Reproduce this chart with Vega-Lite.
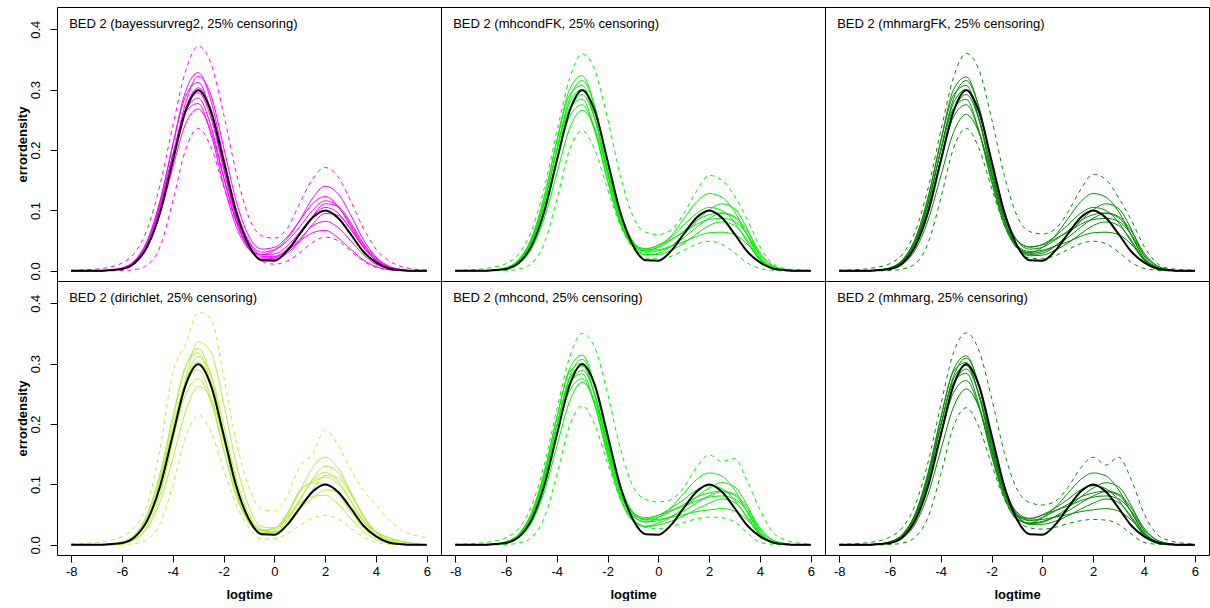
{
"$schema": "https://vega.github.io/schema/vega-lite/v6.json",
"padding": {"left": 16, "top": -4, "right": 1, "bottom": 0},
"background": "white",
"data": {"values": [
{"p":"1","x":-8,"lab":"BED 2 (bayessurvreg2, 25% censoring)","t":0,"u":0.001,"l":0,"a":0,"b":0,"c":0,"d":0,"e":0,"f":0,"g":0,"h":0},
{"p":"1","x":-7,"t":0,"u":0.003,"l":0,"a":0,"b":0,"c":0,"d":0,"e":0,"f":0,"g":0,"h":0},
{"p":"1","x":-6.5,"t":0.001,"u":0.006,"l":0,"a":0.001,"b":0.001,"c":0.001,"d":0.001,"e":0.001,"f":0.001,"g":0.001,"h":0.001},
{"p":"1","x":-6,"t":0.003,"u":0.013,"l":0.0005,"a":0.004,"b":0.003,"c":0.005,"d":0.003,"e":0.004,"f":0.004,"g":0.004,"h":0.003},
{"p":"1","x":-5.5,"t":0.013,"u":0.03,"l":0.002,"a":0.016,"b":0.012,"c":0.017,"d":0.013,"e":0.015,"f":0.016,"g":0.017,"h":0.013},
{"p":"1","x":-5,"t":0.041,"u":0.07,"l":0.01,"a":0.049,"b":0.039,"c":0.051,"d":0.041,"e":0.044,"f":0.047,"g":0.049,"h":0.040},
{"p":"1","x":-4.5,"t":0.097,"u":0.143,"l":0.04,"a":0.114,"b":0.097,"c":0.117,"d":0.098,"e":0.103,"f":0.107,"g":0.110,"h":0.094},
{"p":"1","x":-4,"t":0.182,"u":0.24,"l":0.115,"a":0.209,"b":0.186,"c":0.208,"d":0.184,"e":0.188,"f":0.191,"g":0.193,"h":0.171},
{"p":"1","x":-3.5,"t":0.264,"u":0.33,"l":0.2,"a":0.297,"b":0.277,"c":0.289,"d":0.268,"e":0.267,"f":0.265,"g":0.263,"h":0.243},
{"p":"1","x":-3,"t":0.299,"u":0.372,"l":0.236,"a":0.328,"b":0.322,"c":0.312,"d":0.303,"e":0.295,"f":0.286,"g":0.277,"h":0.268},
{"p":"1","x":-2.5,"t":0.264,"u":0.344,"l":0.205,"a":0.282,"b":0.291,"c":0.262,"d":0.268,"e":0.254,"f":0.240,"g":0.226,"h":0.231},
{"p":"1","x":-2,"t":0.182,"u":0.26,"l":0.14,"a":0.189,"b":0.205,"c":0.170,"d":0.184,"e":0.170,"f":0.156,"g":0.143,"h":0.155},
{"p":"1","x":-1.5,"t":0.097,"u":0.162,"l":0.082,"a":0.100,"b":0.115,"c":0.087,"d":0.101,"e":0.090,"f":0.081,"g":0.073,"h":0.082},
{"p":"1","x":-1,"t":0.042,"u":0.088,"l":0.04,"a":0.047,"b":0.057,"c":0.038,"d":0.049,"e":0.042,"f":0.036,"g":0.036,"h":0.037},
{"p":"1","x":-0.5,"t":0.0175,"u":0.058,"l":0.016,"a":0.027,"b":0.036,"c":0.019,"d":0.031,"e":0.024,"f":0.021,"g":0.027,"h":0.019},
{"p":"1","x":0,"t":0.0168,"u":0.054,"l":0.011,"a":0.028,"b":0.039,"c":0.019,"d":0.035,"e":0.024,"f":0.023,"g":0.034,"h":0.021},
{"p":"1","x":0.5,"t":0.033,"u":0.07,"l":0.016,"a":0.041,"b":0.056,"c":0.029,"d":0.053,"e":0.036,"f":0.034,"g":0.049,"h":0.033},
{"p":"1","x":1,"t":0.061,"u":0.112,"l":0.03,"a":0.064,"b":0.083,"c":0.050,"d":0.084,"e":0.060,"f":0.049,"g":0.073,"h":0.053},
{"p":"1","x":1.5,"t":0.088,"u":0.152,"l":0.047,"a":0.090,"b":0.111,"c":0.077,"d":0.120,"e":0.090,"f":0.063,"g":0.100,"h":0.074},
{"p":"1","x":2,"t":0.100,"u":0.171,"l":0.056,"a":0.105,"b":0.123,"c":0.095,"d":0.140,"e":0.111,"f":0.067,"g":0.116,"h":0.082},
{"p":"1","x":2.5,"t":0.088,"u":0.156,"l":0.05,"a":0.096,"b":0.107,"c":0.092,"d":0.128,"e":0.107,"f":0.055,"g":0.106,"h":0.072},
{"p":"1","x":3,"t":0.061,"u":0.116,"l":0.033,"a":0.069,"b":0.074,"c":0.069,"d":0.093,"e":0.080,"f":0.036,"g":0.077,"h":0.050},
{"p":"1","x":3.5,"t":0.032,"u":0.071,"l":0.016,"a":0.039,"b":0.040,"c":0.040,"d":0.052,"e":0.046,"f":0.018,"g":0.043,"h":0.027},
{"p":"1","x":4,"t":0.014,"u":0.036,"l":0.006,"a":0.017,"b":0.017,"c":0.018,"d":0.023,"e":0.021,"f":0.007,"g":0.019,"h":0.011},
{"p":"1","x":4.5,"t":0.004,"u":0.017,"l":0.002,"a":0.006,"b":0.005,"c":0.006,"d":0.008,"e":0.007,"f":0.002,"g":0.006,"h":0.004},
{"p":"1","x":5,"t":0.001,"u":0.007,"l":0.0005,"a":0.002,"b":0.001,"c":0.002,"d":0.002,"e":0.002,"f":0.001,"g":0.002,"h":0.001},
{"p":"1","x":5.5,"t":0,"u":0.003,"l":0,"a":0,"b":0,"c":0,"d":0,"e":0,"f":0,"g":0,"h":0},
{"p":"1","x":6,"t":0,"u":0.001,"l":0,"a":0,"b":0,"c":0,"d":0,"e":0,"f":0,"g":0,"h":0},

{"p":"2","x":-8,"lab":"BED 2 (mhcondFK, 25% censoring)","t":0,"u":0.001,"l":0,"a":0,"b":0,"c":0,"d":0,"e":0,"f":0,"g":0,"h":0},
{"p":"2","x":-7,"t":0,"u":0.003,"l":0,"a":0,"b":0,"c":0,"d":0,"e":0,"f":0,"g":0,"h":0},
{"p":"2","x":-6.5,"t":0.001,"u":0.006,"l":0,"a":0.001,"b":0.001,"c":0.001,"d":0.001,"e":0.001,"f":0.001,"g":0.001,"h":0.001},
{"p":"2","x":-6,"t":0.003,"u":0.012,"l":0.0005,"a":0.005,"b":0.004,"c":0.005,"d":0.004,"e":0.004,"f":0.005,"g":0.004,"h":0.003},
{"p":"2","x":-5.5,"t":0.013,"u":0.028,"l":0.003,"a":0.018,"b":0.016,"c":0.019,"d":0.016,"e":0.014,"f":0.017,"g":0.015,"h":0.012},
{"p":"2","x":-5,"t":0.041,"u":0.066,"l":0.012,"a":0.053,"b":0.047,"c":0.054,"d":0.049,"e":0.044,"f":0.050,"g":0.045,"h":0.036},
{"p":"2","x":-4.5,"t":0.097,"u":0.136,"l":0.045,"a":0.121,"b":0.110,"c":0.122,"d":0.112,"e":0.102,"f":0.113,"g":0.103,"h":0.086},
{"p":"2","x":-4,"t":0.182,"u":0.230,"l":0.118,"a":0.216,"b":0.201,"c":0.214,"d":0.200,"e":0.186,"f":0.198,"g":0.184,"h":0.161},
{"p":"2","x":-3.5,"t":0.264,"u":0.318,"l":0.200,"a":0.300,"b":0.285,"c":0.291,"d":0.278,"e":0.264,"f":0.269,"g":0.255,"h":0.235},
{"p":"2","x":-3,"t":0.299,"u":0.359,"l":0.232,"a":0.323,"b":0.315,"c":0.307,"d":0.300,"e":0.292,"f":0.284,"g":0.275,"h":0.266},
{"p":"2","x":-2.5,"t":0.264,"u":0.332,"l":0.200,"a":0.271,"b":0.271,"c":0.251,"d":0.252,"e":0.251,"f":0.232,"g":0.231,"h":0.235},
{"p":"2","x":-2,"t":0.182,"u":0.252,"l":0.135,"a":0.178,"b":0.182,"c":0.160,"d":0.165,"e":0.169,"f":0.148,"g":0.151,"h":0.162},
{"p":"2","x":-1.5,"t":0.097,"u":0.158,"l":0.075,"a":0.094,"b":0.099,"c":0.083,"d":0.086,"e":0.093,"f":0.078,"g":0.080,"h":0.090},
{"p":"2","x":-1,"t":0.042,"u":0.090,"l":0.037,"a":0.046,"b":0.049,"c":0.044,"d":0.040,"e":0.048,"f":0.043,"g":0.042,"h":0.044},
{"p":"2","x":-0.5,"t":0.0175,"u":0.064,"l":0.021,"a":0.031,"b":0.034,"c":0.037,"d":0.026,"e":0.034,"f":0.036,"g":0.033,"h":0.027},
{"p":"2","x":0,"t":0.0168,"u":0.060,"l":0.020,"a":0.033,"b":0.040,"c":0.042,"d":0.029,"e":0.035,"f":0.043,"g":0.039,"h":0.027},
{"p":"2","x":0.5,"t":0.033,"u":0.068,"l":0.024,"a":0.041,"b":0.058,"c":0.052,"d":0.041,"e":0.041,"f":0.056,"g":0.051,"h":0.034},
{"p":"2","x":1,"t":0.061,"u":0.095,"l":0.034,"a":0.055,"b":0.086,"c":0.064,"d":0.060,"e":0.048,"f":0.076,"g":0.066,"h":0.046},
{"p":"2","x":1.5,"t":0.088,"u":0.132,"l":0.044,"a":0.072,"b":0.114,"c":0.077,"d":0.082,"e":0.057,"f":0.095,"g":0.083,"h":0.061},
{"p":"2","x":2,"t":0.100,"u":0.158,"l":0.049,"a":0.087,"b":0.128,"c":0.085,"d":0.101,"e":0.063,"f":0.105,"g":0.093,"h":0.075},
{"p":"2","x":2.5,"t":0.088,"u":0.150,"l":0.044,"a":0.095,"b":0.122,"c":0.087,"d":0.111,"e":0.064,"f":0.100,"g":0.096,"h":0.081},
{"p":"2","x":3,"t":0.061,"u":0.124,"l":0.030,"a":0.088,"b":0.098,"c":0.082,"d":0.103,"e":0.060,"f":0.080,"g":0.090,"h":0.075},
{"p":"2","x":3.5,"t":0.032,"u":0.085,"l":0.013,"a":0.060,"b":0.059,"c":0.060,"d":0.069,"e":0.044,"f":0.048,"g":0.066,"h":0.051},
{"p":"2","x":4,"t":0.014,"u":0.040,"l":0.004,"a":0.021,"b":0.021,"c":0.027,"d":0.025,"e":0.020,"f":0.017,"g":0.030,"h":0.018},
{"p":"2","x":4.5,"t":0.004,"u":0.012,"l":0.001,"a":0.005,"b":0.005,"c":0.008,"d":0.006,"e":0.006,"f":0.004,"g":0.009,"h":0.004},
{"p":"2","x":5,"t":0.001,"u":0.004,"l":0,"a":0.001,"b":0.001,"c":0.002,"d":0.001,"e":0.001,"f":0.001,"g":0.002,"h":0.001},
{"p":"2","x":5.5,"t":0,"u":0.002,"l":0,"a":0,"b":0,"c":0,"d":0,"e":0,"f":0,"g":0,"h":0},
{"p":"2","x":6,"t":0,"u":0.001,"l":0,"a":0,"b":0,"c":0,"d":0,"e":0,"f":0,"g":0,"h":0},

{"p":"3","x":-8,"lab":"BED 2 (mhmargFK, 25% censoring)","t":0,"u":0.001,"l":0,"a":0,"b":0,"c":0,"d":0,"e":0,"f":0,"g":0,"h":0},
{"p":"3","x":-7,"t":0,"u":0.003,"l":0,"a":0,"b":0,"c":0,"d":0,"e":0,"f":0,"g":0,"h":0},
{"p":"3","x":-6.5,"t":0.001,"u":0.006,"l":0,"a":0.001,"b":0.001,"c":0.001,"d":0.001,"e":0.001,"f":0.001,"g":0.001,"h":0.001},
{"p":"3","x":-6,"t":0.003,"u":0.012,"l":0.0005,"a":0.005,"b":0.004,"c":0.005,"d":0.004,"e":0.004,"f":0.005,"g":0.004,"h":0.003},
{"p":"3","x":-5.5,"t":0.013,"u":0.028,"l":0.003,"a":0.018,"b":0.016,"c":0.019,"d":0.016,"e":0.014,"f":0.017,"g":0.015,"h":0.011},
{"p":"3","x":-5,"t":0.041,"u":0.066,"l":0.012,"a":0.053,"b":0.047,"c":0.054,"d":0.049,"e":0.044,"f":0.050,"g":0.045,"h":0.035},
{"p":"3","x":-4.5,"t":0.097,"u":0.137,"l":0.046,"a":0.121,"b":0.110,"c":0.122,"d":0.112,"e":0.102,"f":0.113,"g":0.103,"h":0.084},
{"p":"3","x":-4,"t":0.182,"u":0.232,"l":0.120,"a":0.216,"b":0.201,"c":0.214,"d":0.200,"e":0.186,"f":0.198,"g":0.184,"h":0.157},
{"p":"3","x":-3.5,"t":0.264,"u":0.320,"l":0.203,"a":0.300,"b":0.285,"c":0.291,"d":0.278,"e":0.264,"f":0.269,"g":0.255,"h":0.229},
{"p":"3","x":-3,"t":0.299,"u":0.360,"l":0.236,"a":0.321,"b":0.315,"c":0.307,"d":0.300,"e":0.292,"f":0.284,"g":0.275,"h":0.259},
{"p":"3","x":-2.5,"t":0.264,"u":0.333,"l":0.203,"a":0.271,"b":0.271,"c":0.251,"d":0.252,"e":0.251,"f":0.232,"g":0.231,"h":0.229},
{"p":"3","x":-2,"t":0.182,"u":0.252,"l":0.137,"a":0.177,"b":0.182,"c":0.159,"d":0.165,"e":0.170,"f":0.147,"g":0.151,"h":0.159},
{"p":"3","x":-1.5,"t":0.097,"u":0.158,"l":0.076,"a":0.093,"b":0.099,"c":0.082,"d":0.086,"e":0.094,"f":0.076,"g":0.081,"h":0.090},
{"p":"3","x":-1,"t":0.042,"u":0.091,"l":0.037,"a":0.043,"b":0.050,"c":0.040,"d":0.040,"e":0.051,"f":0.038,"g":0.042,"h":0.050},
{"p":"3","x":-0.5,"t":0.0175,"u":0.065,"l":0.021,"a":0.027,"b":0.036,"c":0.030,"d":0.025,"e":0.039,"f":0.029,"g":0.032,"h":0.040},
{"p":"3","x":0,"t":0.0168,"u":0.061,"l":0.020,"a":0.029,"b":0.039,"c":0.039,"d":0.026,"e":0.044,"f":0.032,"g":0.034,"h":0.043},
{"p":"3","x":0.5,"t":0.033,"u":0.069,"l":0.025,"a":0.041,"b":0.051,"c":0.058,"d":0.034,"e":0.057,"f":0.041,"g":0.041,"h":0.053},
{"p":"3","x":1,"t":0.061,"u":0.097,"l":0.035,"a":0.060,"b":0.066,"c":0.086,"d":0.046,"e":0.076,"f":0.055,"g":0.048,"h":0.064},
{"p":"3","x":1.5,"t":0.088,"u":0.134,"l":0.045,"a":0.082,"b":0.083,"c":0.114,"d":0.061,"e":0.095,"f":0.072,"g":0.057,"h":0.077},
{"p":"3","x":2,"t":0.100,"u":0.160,"l":0.049,"a":0.101,"b":0.093,"c":0.128,"d":0.075,"e":0.105,"f":0.087,"g":0.063,"h":0.085},
{"p":"3","x":2.5,"t":0.088,"u":0.151,"l":0.045,"a":0.111,"b":0.096,"c":0.122,"d":0.081,"e":0.100,"f":0.095,"g":0.064,"h":0.087},
{"p":"3","x":3,"t":0.061,"u":0.121,"l":0.031,"a":0.103,"b":0.090,"c":0.098,"d":0.075,"e":0.080,"f":0.088,"g":0.060,"h":0.082},
{"p":"3","x":3.5,"t":0.032,"u":0.084,"l":0.014,"a":0.069,"b":0.066,"c":0.059,"d":0.051,"e":0.048,"f":0.060,"g":0.044,"h":0.060},
{"p":"3","x":4,"t":0.014,"u":0.041,"l":0.004,"a":0.025,"b":0.030,"c":0.021,"d":0.018,"e":0.017,"f":0.021,"g":0.020,"h":0.027},
{"p":"3","x":4.5,"t":0.004,"u":0.013,"l":0.001,"a":0.006,"b":0.009,"c":0.005,"d":0.004,"e":0.004,"f":0.005,"g":0.006,"h":0.008},
{"p":"3","x":5,"t":0.001,"u":0.004,"l":0,"a":0.001,"b":0.002,"c":0.001,"d":0.001,"e":0.001,"f":0.001,"g":0.001,"h":0.002},
{"p":"3","x":5.5,"t":0,"u":0.002,"l":0,"a":0,"b":0,"c":0,"d":0,"e":0,"f":0,"g":0,"h":0},
{"p":"3","x":6,"t":0,"u":0.001,"l":0,"a":0,"b":0,"c":0,"d":0,"e":0,"f":0,"g":0,"h":0},

{"p":"4","x":-8,"lab":"BED 2 (dirichlet, 25% censoring)","t":0,"u":0.002,"l":0,"a":0,"b":0,"c":0,"d":0,"e":0,"f":0,"g":0,"h":0},
{"p":"4","x":-7,"t":0,"u":0.004,"l":0,"a":0,"b":0,"c":0,"d":0,"e":0,"f":0,"g":0,"h":0},
{"p":"4","x":-6.5,"t":0.001,"u":0.007,"l":0,"a":0,"b":0.001,"c":0.001,"d":0.001,"e":0.001,"f":0.001,"g":0.001,"h":0},
{"p":"4","x":-6,"t":0.003,"u":0.014,"l":0.0005,"a":0.002,"b":0.004,"c":0.005,"d":0.003,"e":0.003,"f":0.004,"g":0.004,"h":0.002},
{"p":"4","x":-5.5,"t":0.013,"u":0.03,"l":0.002,"a":0.009,"b":0.016,"c":0.017,"d":0.012,"e":0.013,"f":0.016,"g":0.014,"h":0.009},
{"p":"4","x":-5,"t":0.041,"u":0.068,"l":0.009,"a":0.032,"b":0.048,"c":0.052,"d":0.038,"e":0.041,"f":0.047,"g":0.041,"h":0.028},
{"p":"4","x":-4.5,"t":0.097,"u":0.16,"l":0.035,"a":0.084,"b":0.113,"c":0.119,"d":0.094,"e":0.098,"f":0.108,"g":0.096,"h":0.072},
{"p":"4","x":-4,"t":0.182,"u":0.285,"l":0.098,"a":0.173,"b":0.207,"c":0.212,"d":0.180,"e":0.184,"f":0.194,"g":0.175,"h":0.143},
{"p":"4","x":-3.5,"t":0.264,"u":0.332,"l":0.178,"a":0.274,"b":0.294,"c":0.295,"d":0.269,"e":0.268,"f":0.269,"g":0.249,"h":0.220},
{"p":"4","x":-3,"t":0.299,"u":0.385,"l":0.215,"a":0.336,"b":0.325,"c":0.318,"d":0.312,"e":0.303,"f":0.290,"g":0.275,"h":0.262},
{"p":"4","x":-2.5,"t":0.264,"u":0.375,"l":0.188,"a":0.319,"b":0.280,"c":0.267,"d":0.282,"e":0.268,"f":0.243,"g":0.237,"h":0.243},
{"p":"4","x":-2,"t":0.182,"u":0.28,"l":0.125,"a":0.234,"b":0.187,"c":0.174,"d":0.199,"e":0.184,"f":0.158,"g":0.158,"h":0.175},
{"p":"4","x":-1.5,"t":0.097,"u":0.17,"l":0.066,"a":0.134,"b":0.098,"c":0.088,"d":0.109,"e":0.099,"f":0.080,"g":0.083,"h":0.098},
{"p":"4","x":-1,"t":0.042,"u":0.095,"l":0.028,"a":0.063,"b":0.044,"c":0.037,"d":0.051,"e":0.044,"f":0.036,"g":0.039,"h":0.046},
{"p":"4","x":-0.5,"t":0.0175,"u":0.058,"l":0.010,"a":0.030,"b":0.024,"c":0.019,"d":0.025,"e":0.023,"f":0.020,"g":0.025,"h":0.023},
{"p":"4","x":0,"t":0.0168,"u":0.056,"l":0.010,"a":0.028,"b":0.027,"c":0.021,"d":0.021,"e":0.027,"f":0.023,"g":0.028,"h":0.020},
{"p":"4","x":0.5,"t":0.033,"u":0.08,"l":0.018,"a":0.045,"b":0.052,"c":0.040,"d":0.034,"e":0.051,"f":0.048,"g":0.044,"h":0.032},
{"p":"4","x":1,"t":0.061,"u":0.13,"l":0.032,"a":0.075,"b":0.090,"c":0.073,"d":0.060,"e":0.089,"f":0.088,"g":0.069,"h":0.059},
{"p":"4","x":1.5,"t":0.088,"u":0.15,"l":0.044,"a":0.106,"b":0.102,"c":0.109,"d":0.077,"e":0.128,"f":0.104,"g":0.080,"h":0.091},
{"p":"4","x":2,"t":0.100,"u":0.19,"l":0.049,"a":0.120,"b":0.102,"c":0.130,"d":0.091,"e":0.145,"f":0.112,"g":0.082,"h":0.115},
{"p":"4","x":2.5,"t":0.088,"u":0.165,"l":0.043,"a":0.106,"b":0.084,"c":0.120,"d":0.087,"e":0.128,"f":0.102,"g":0.068,"h":0.111},
{"p":"4","x":3,"t":0.061,"u":0.125,"l":0.028,"a":0.073,"b":0.055,"c":0.087,"d":0.065,"e":0.088,"f":0.073,"g":0.044,"h":0.084},
{"p":"4","x":3.5,"t":0.032,"u":0.09,"l":0.013,"a":0.039,"b":0.028,"c":0.049,"d":0.038,"e":0.047,"f":0.041,"g":0.022,"h":0.048},
{"p":"4","x":4,"t":0.014,"u":0.066,"l":0.004,"a":0.016,"b":0.015,"c":0.021,"d":0.021,"e":0.020,"f":0.022,"g":0.009,"h":0.022},
{"p":"4","x":4.5,"t":0.004,"u":0.042,"l":0.001,"a":0.005,"b":0.009,"c":0.007,"d":0.012,"e":0.006,"f":0.012,"g":0.003,"h":0.008},
{"p":"4","x":5,"t":0.001,"u":0.024,"l":0,"a":0.001,"b":0.005,"c":0.002,"d":0.006,"e":0.002,"f":0.006,"g":0.001,"h":0.002},
{"p":"4","x":5.5,"t":0,"u":0.016,"l":0,"a":0,"b":0.002,"c":0,"d":0.002,"e":0,"f":0.002,"g":0,"h":0},
{"p":"4","x":6,"t":0,"u":0.012,"l":0,"a":0,"b":0,"c":0,"d":0,"e":0,"f":0,"g":0,"h":0},

{"p":"5","x":-8,"lab":"BED 2 (mhcond, 25% censoring)","t":0,"u":0.001,"l":0,"a":0,"b":0,"c":0,"d":0,"e":0,"f":0,"g":0,"h":0},
{"p":"5","x":-7,"t":0,"u":0.003,"l":0,"a":0,"b":0,"c":0,"d":0,"e":0,"f":0,"g":0,"h":0},
{"p":"5","x":-6.5,"t":0.001,"u":0.006,"l":0,"a":0.001,"b":0.001,"c":0.001,"d":0.001,"e":0.001,"f":0.001,"g":0.001,"h":0.001},
{"p":"5","x":-6,"t":0.003,"u":0.012,"l":0.0005,"a":0.005,"b":0.004,"c":0.005,"d":0.004,"e":0.004,"f":0.005,"g":0.004,"h":0.003},
{"p":"5","x":-5.5,"t":0.013,"u":0.027,"l":0.003,"a":0.017,"b":0.015,"c":0.018,"d":0.016,"e":0.014,"f":0.017,"g":0.015,"h":0.012},
{"p":"5","x":-5,"t":0.041,"u":0.064,"l":0.012,"a":0.051,"b":0.046,"c":0.053,"d":0.048,"e":0.043,"f":0.050,"g":0.045,"h":0.036},
{"p":"5","x":-4.5,"t":0.097,"u":0.132,"l":0.044,"a":0.117,"b":0.107,"c":0.120,"d":0.110,"e":0.101,"f":0.112,"g":0.103,"h":0.087},
{"p":"5","x":-4,"t":0.182,"u":0.224,"l":0.115,"a":0.210,"b":0.196,"c":0.210,"d":0.197,"e":0.184,"f":0.197,"g":0.184,"h":0.163},
{"p":"5","x":-3.5,"t":0.264,"u":0.310,"l":0.197,"a":0.291,"b":0.278,"c":0.286,"d":0.274,"e":0.262,"f":0.268,"g":0.255,"h":0.237},
{"p":"5","x":-3,"t":0.299,"u":0.350,"l":0.230,"a":0.314,"b":0.307,"c":0.301,"d":0.296,"e":0.289,"f":0.283,"g":0.275,"h":0.269},
{"p":"5","x":-2.5,"t":0.264,"u":0.326,"l":0.198,"a":0.263,"b":0.264,"c":0.246,"d":0.248,"e":0.249,"f":0.231,"g":0.231,"h":0.237},
{"p":"5","x":-2,"t":0.182,"u":0.250,"l":0.135,"a":0.173,"b":0.178,"c":0.156,"d":0.162,"e":0.168,"f":0.146,"g":0.152,"h":0.164},
{"p":"5","x":-1.5,"t":0.097,"u":0.160,"l":0.077,"a":0.094,"b":0.099,"c":0.081,"d":0.088,"e":0.093,"f":0.076,"g":0.084,"h":0.094},
{"p":"5","x":-1,"t":0.042,"u":0.097,"l":0.042,"a":0.053,"b":0.054,"c":0.041,"d":0.047,"e":0.050,"f":0.039,"g":0.050,"h":0.053},
{"p":"5","x":-0.5,"t":0.0175,"u":0.075,"l":0.029,"a":0.045,"b":0.041,"c":0.031,"d":0.038,"e":0.038,"f":0.030,"g":0.043,"h":0.042},
{"p":"5","x":0,"t":0.0168,"u":0.071,"l":0.027,"a":0.049,"b":0.042,"c":0.036,"d":0.045,"e":0.040,"f":0.033,"g":0.049,"h":0.046},
{"p":"5","x":0.5,"t":0.033,"u":0.075,"l":0.030,"a":0.057,"b":0.046,"c":0.046,"d":0.062,"e":0.047,"f":0.039,"g":0.061,"h":0.056},
{"p":"5","x":1,"t":0.061,"u":0.095,"l":0.037,"a":0.064,"b":0.050,"c":0.061,"d":0.085,"e":0.056,"f":0.048,"g":0.075,"h":0.067},
{"p":"5","x":1.5,"t":0.088,"u":0.128,"l":0.043,"a":0.073,"b":0.055,"c":0.079,"d":0.108,"e":0.069,"f":0.059,"g":0.091,"h":0.079},
{"p":"5","x":2,"t":0.100,"u":0.149,"l":0.046,"a":0.079,"b":0.058,"c":0.094,"d":0.119,"e":0.081,"f":0.069,"g":0.098,"h":0.086},
{"p":"5","x":2.5,"t":0.088,"u":0.138,"l":0.045,"a":0.081,"b":0.060,"c":0.103,"d":0.114,"e":0.088,"f":0.076,"g":0.093,"h":0.089},
{"p":"5","x":3,"t":0.061,"u":0.143,"l":0.038,"a":0.076,"b":0.056,"c":0.096,"d":0.091,"e":0.082,"f":0.070,"g":0.074,"h":0.084},
{"p":"5","x":3.5,"t":0.032,"u":0.105,"l":0.020,"a":0.056,"b":0.041,"c":0.065,"d":0.054,"e":0.055,"f":0.047,"g":0.044,"h":0.061},
{"p":"5","x":4,"t":0.014,"u":0.058,"l":0.004,"a":0.025,"b":0.019,"c":0.023,"d":0.019,"e":0.020,"f":0.017,"g":0.016,"h":0.028},
{"p":"5","x":4.5,"t":0.004,"u":0.021,"l":0.001,"a":0.008,"b":0.006,"c":0.005,"d":0.005,"e":0.005,"f":0.004,"g":0.004,"h":0.008},
{"p":"5","x":5,"t":0.001,"u":0.008,"l":0,"a":0.002,"b":0.001,"c":0.001,"d":0.001,"e":0.001,"f":0.001,"g":0.001,"h":0.002},
{"p":"5","x":5.5,"t":0,"u":0.003,"l":0,"a":0,"b":0,"c":0,"d":0,"e":0,"f":0,"g":0,"h":0},
{"p":"5","x":6,"t":0,"u":0.001,"l":0,"a":0,"b":0,"c":0,"d":0,"e":0,"f":0,"g":0,"h":0},

{"p":"6","x":-8,"lab":"BED 2 (mhmarg, 25% censoring)","t":0,"u":0.001,"l":0,"a":0,"b":0,"c":0,"d":0,"e":0,"f":0,"g":0,"h":0},
{"p":"6","x":-7,"t":0,"u":0.003,"l":0,"a":0,"b":0,"c":0,"d":0,"e":0,"f":0,"g":0,"h":0},
{"p":"6","x":-6.5,"t":0.001,"u":0.006,"l":0,"a":0.001,"b":0.001,"c":0.001,"d":0.001,"e":0.001,"f":0.001,"g":0.001,"h":0.001},
{"p":"6","x":-6,"t":0.003,"u":0.013,"l":0.0005,"a":0.005,"b":0.004,"c":0.005,"d":0.004,"e":0.004,"f":0.005,"g":0.004,"h":0.003},
{"p":"6","x":-5.5,"t":0.013,"u":0.029,"l":0.003,"a":0.017,"b":0.015,"c":0.018,"d":0.016,"e":0.014,"f":0.017,"g":0.015,"h":0.011},
{"p":"6","x":-5,"t":0.041,"u":0.067,"l":0.013,"a":0.051,"b":0.046,"c":0.053,"d":0.048,"e":0.043,"f":0.050,"g":0.044,"h":0.035},
{"p":"6","x":-4.5,"t":0.097,"u":0.137,"l":0.046,"a":0.117,"b":0.108,"c":0.120,"d":0.111,"e":0.101,"f":0.113,"g":0.102,"h":0.084},
{"p":"6","x":-4,"t":0.182,"u":0.232,"l":0.117,"a":0.209,"b":0.197,"c":0.211,"d":0.198,"e":0.185,"f":0.198,"g":0.182,"h":0.157},
{"p":"6","x":-3.5,"t":0.264,"u":0.318,"l":0.196,"a":0.290,"b":0.279,"c":0.287,"d":0.275,"e":0.263,"f":0.269,"g":0.252,"h":0.228},
{"p":"6","x":-3,"t":0.299,"u":0.351,"l":0.227,"a":0.313,"b":0.309,"c":0.302,"d":0.297,"e":0.291,"f":0.284,"g":0.272,"h":0.258},
{"p":"6","x":-2.5,"t":0.264,"u":0.322,"l":0.195,"a":0.263,"b":0.266,"c":0.247,"d":0.249,"e":0.250,"f":0.232,"g":0.228,"h":0.228},
{"p":"6","x":-2,"t":0.182,"u":0.243,"l":0.133,"a":0.172,"b":0.179,"c":0.157,"d":0.163,"e":0.168,"f":0.147,"g":0.150,"h":0.158},
{"p":"6","x":-1.5,"t":0.097,"u":0.153,"l":0.076,"a":0.095,"b":0.098,"c":0.083,"d":0.088,"e":0.093,"f":0.078,"g":0.083,"h":0.090},
{"p":"6","x":-1,"t":0.042,"u":0.092,"l":0.041,"a":0.054,"b":0.050,"c":0.044,"d":0.049,"e":0.048,"f":0.042,"g":0.049,"h":0.052},
{"p":"6","x":-0.5,"t":0.0175,"u":0.070,"l":0.028,"a":0.044,"b":0.035,"c":0.036,"d":0.040,"e":0.034,"f":0.036,"g":0.043,"h":0.041},
{"p":"6","x":0,"t":0.0168,"u":0.066,"l":0.026,"a":0.050,"b":0.037,"c":0.039,"d":0.045,"e":0.034,"f":0.045,"g":0.049,"h":0.042},
{"p":"6","x":0.5,"t":0.033,"u":0.072,"l":0.029,"a":0.061,"b":0.047,"c":0.046,"d":0.056,"e":0.039,"f":0.062,"g":0.057,"h":0.046},
{"p":"6","x":1,"t":0.061,"u":0.095,"l":0.035,"a":0.075,"b":0.061,"c":0.056,"d":0.067,"e":0.048,"f":0.085,"g":0.064,"h":0.050},
{"p":"6","x":1.5,"t":0.088,"u":0.127,"l":0.040,"a":0.091,"b":0.079,"c":0.069,"d":0.079,"e":0.059,"f":0.108,"g":0.073,"h":0.055},
{"p":"6","x":2,"t":0.100,"u":0.145,"l":0.042,"a":0.098,"b":0.094,"c":0.081,"d":0.086,"e":0.069,"f":0.119,"g":0.079,"h":0.058},
{"p":"6","x":2.5,"t":0.088,"u":0.132,"l":0.041,"a":0.093,"b":0.103,"c":0.088,"d":0.089,"e":0.076,"f":0.114,"g":0.081,"h":0.060},
{"p":"6","x":3,"t":0.061,"u":0.145,"l":0.034,"a":0.074,"b":0.096,"c":0.082,"d":0.084,"e":0.070,"f":0.091,"g":0.076,"h":0.056},
{"p":"6","x":3.5,"t":0.032,"u":0.108,"l":0.018,"a":0.044,"b":0.065,"c":0.055,"d":0.061,"e":0.047,"f":0.054,"g":0.056,"h":0.041},
{"p":"6","x":4,"t":0.014,"u":0.052,"l":0.004,"a":0.016,"b":0.023,"c":0.020,"d":0.028,"e":0.017,"f":0.019,"g":0.025,"h":0.019},
{"p":"6","x":4.5,"t":0.004,"u":0.018,"l":0.001,"a":0.004,"b":0.005,"c":0.005,"d":0.008,"e":0.004,"f":0.005,"g":0.008,"h":0.006},
{"p":"6","x":5,"t":0.001,"u":0.007,"l":0,"a":0.001,"b":0.001,"c":0.001,"d":0.002,"e":0.001,"f":0.001,"g":0.002,"h":0.001},
{"p":"6","x":5.5,"t":0,"u":0.003,"l":0,"a":0,"b":0,"c":0,"d":0,"e":0,"f":0,"g":0,"h":0},
{"p":"6","x":6,"t":0,"u":0.001,"l":0,"a":0,"b":0,"c":0,"d":0,"e":0,"f":0,"g":0,"h":0}
]},
"facet": {"field": "p", "type": "nominal", "sort": ["1","2","3","4","5","6"],
          "header": {"title": null, "labels": false, "labelExpr": "''", "labelPadding": 0, "titlePadding": 0}},
"columns": 3,
"spacing": 0,
"bounds": "flush",
"spec": {
  "width": 384,
  "height": 274,
  "encoding": {
    "x": {"field": "x", "type": "quantitative",
          "scale": {"domain": [-8.56, 6.56], "nice": false, "zero": false},
          "axis": {"values": [-8,-6,-4,-2,0,2,4,6], "title": "logtime", "labelExpr": "toString(datum.value)"}}
  },
  "layer": [
    {
      "transform": [{"fold": ["a","b","c","d","e","f","g","h"], "as": ["k","v"]}],
      "mark": {"type": "line", "strokeWidth": 1, "interpolate": "monotone"},
      "encoding": {
        "y": {"field": "v", "type": "quantitative",
              "scale": {"domain": [-0.0168, 0.4368], "nice": false, "zero": false},
              "axis": {"values": [0,0.1,0.2,0.3,0.4], "format": ".1f", "title": "errordensity"}},
        "color": {"field": "p", "type": "nominal",
                  "scale": {"domain": ["1","2","3","4","5","6"], "range": ["#FF00FF","#00EE00","#008B00","#B3EE3A","#00EE00","#008B00"]},
                  "legend": null},
        "detail": {"field": "k", "type": "nominal"}
      }
    },
    {
      "transform": [{"fold": ["u","l"], "as": ["k","v"]}],
      "mark": {"type": "line", "strokeWidth": 1, "strokeDash": [4,4], "interpolate": "monotone"},
      "encoding": {
        "y": {"field": "v", "type": "quantitative",
              "scale": {"domain": [-0.0168, 0.4368], "nice": false, "zero": false},
              "axis": {"values": [0,0.1,0.2,0.3,0.4], "format": ".1f", "title": "errordensity"}},
        "color": {"field": "p", "type": "nominal",
                  "scale": {"domain": ["1","2","3","4","5","6"], "range": ["#FF00FF","#00EE00","#008B00","#B3EE3A","#00EE00","#008B00"]},
                  "legend": null},
        "detail": {"field": "k", "type": "nominal"}
      }
    },
    {
      "mark": {"type": "line", "strokeWidth": 2, "color": "black", "interpolate": "monotone"},
      "encoding": {
        "y": {"field": "t", "type": "quantitative",
              "scale": {"domain": [-0.0168, 0.4368], "nice": false, "zero": false},
              "axis": {"values": [0,0.1,0.2,0.3,0.4], "format": ".1f", "title": "errordensity"}}
      }
    },
    {
      "transform": [{"filter": "isValid(datum.lab)"}],
      "mark": {"type": "text", "align": "left", "baseline": "middle", "fontSize": 13, "font": "Liberation Sans", "color": "black"},
      "encoding": {
        "x": {"datum": -8.08, "type": "quantitative"},
        "y": {"datum": 0.409, "type": "quantitative"},
        "text": {"field": "lab", "type": "nominal"}
      }
    }
  ]
},
"config": {
  "view": {"stroke": "black", "strokeWidth": 1},
  "font": "Liberation Sans",
  "header": {"labels": false, "title": null, "labelPadding": 0, "titlePadding": 0},
  "headerFacet": {"labels": false, "title": null, "labelPadding": 0, "titlePadding": 0},
  "axis": {
    "grid": false, "domain": false, "tickColor": "black", "tickSize": 7, "tickWidth": 1,
    "labelFont": "Liberation Sans", "labelFontSize": 13, "labelColor": "black",
    "labelFlush": false, "labelOverlap": false,
    "titleFont": "Liberation Sans", "titleFontSize": 13, "titleFontWeight": "bold", "titleColor": "black"
  },
  "axisY": {"labelAngle": 270, "labelAlign": "center", "labelBaseline": "bottom", "labelPadding": 8, "titlePadding": 0},
  "axisX": {"labelAngle": 0, "labelPadding": 3, "titlePadding": 10}
}
}
